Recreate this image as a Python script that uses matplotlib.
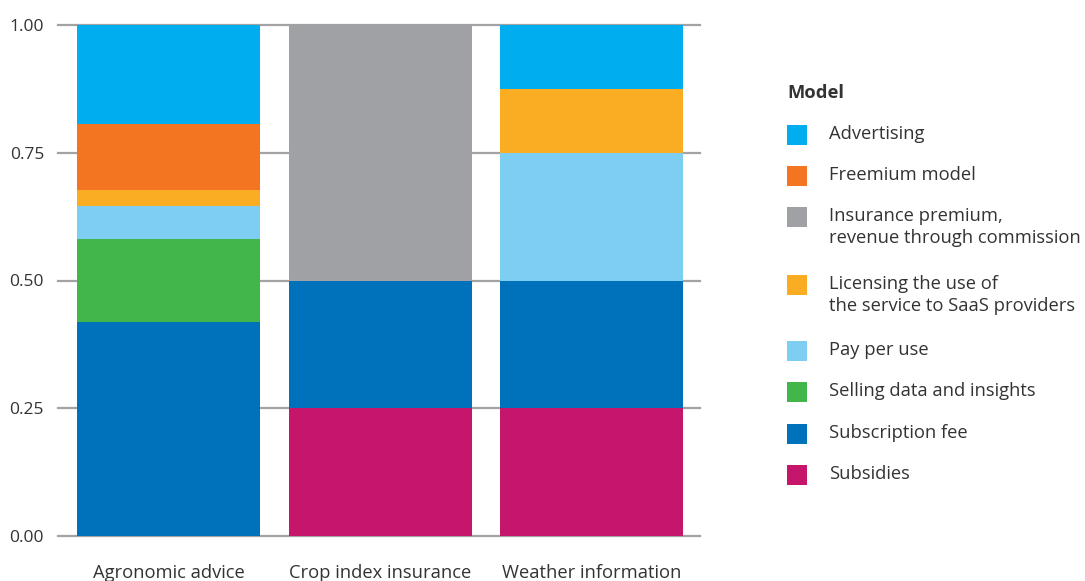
import matplotlib.pyplot as plt
from matplotlib.patches import Rectangle
import numpy as np

# --- data ---
categories = ['Agronomic advice', 'Crop index insurance', 'Weather information']
models = ['Advertising', 'Freemium model', 'Insurance premium,\nrevenue through commission',
          'Licensing the use of\nthe service to SaaS providers', 'Pay per use',
          'Selling data and insights', 'Subscription fee', 'Subsidies']
colors = ['#00AEEF', '#F37421', '#A0A1A4', '#FAAC22', '#7DCEF2', '#42B64A', '#0071BB', '#C5166C']

# shares per category (stacked bottom-up: Subsidies first)
agronomic = {'Subsidies': 0, 'Subscription fee': 13/31, 'Selling data and insights': 5/31,
             'Pay per use': 2/31, 'Licensing the use of\nthe service to SaaS providers': 1/31,
             'Freemium model': 4/31, 'Advertising': 6/31}
crop_index = {'Subsidies': 0.25, 'Subscription fee': 0.25,
              'Insurance premium,\nrevenue through commission': 0.5}
weather = {'Subsidies': 0.25, 'Subscription fee': 0.25, 'Pay per use': 0.25,
           'Licensing the use of\nthe service to SaaS providers': 0.125, 'Advertising': 0.125}
yticks = [0, 0.25, 0.5, 0.75, 1.0]

plt.rcParams['font.family'] = ['Open Sans', 'DejaVu Sans']
text_color = '#333333'
fs = 13.2

W, H = 1085, 581
fig = plt.figure(figsize=(W / 100, H / 100), dpi=100)
ax = fig.add_axes([58 / W, 1 - 536 / H, (700 - 58) / W, (536 - 25) / H])

stack_order = models[::-1]
data = [agronomic, crop_index, weather]
x = np.arange(len(categories))
bottoms = np.zeros(len(categories))
for m in stack_order:
    vals = np.array([d.get(m, 0) for d in data])
    ax.bar(x, vals, bottom=bottoms, width=0.865, color=colors[models.index(m)],
           linewidth=0, zorder=2)
    bottoms += vals

ax.set_xlim(-0.523, 2.513)
ax.set_ylim(0, 1)
ax.set_yticks(yticks)
ax.set_yticklabels([f'{t:.2f}' for t in yticks])
for t in yticks:
    ax.axhline(t, color='#A3A3A3', lw=1.6, zorder=1, clip_on=False)
ax.set_xticks(x)
ax.set_xticklabels(categories, fontsize=fs)
ax.tick_params(axis='both', length=0, labelcolor=text_color)
ax.tick_params(axis='y', pad=10, labelsize=12.5)
ax.tick_params(axis='x', pad=20)
for s in ax.spines.values():
    s.set_visible(False)

# --- legend ---
fig.text(787 / W, 1 - 93 / H, 'Model', fontsize=fs, fontweight='bold',
         color=text_color, va='center', ha='left')
rows_y = [135, 176, 217, 285, 351, 392, 434, 475]
for label, c, yy in zip(models, colors, rows_y):
    fig.add_artist(Rectangle((787 / W, 1 - (yy + 10) / H), 20 / W, 20 / H,
                             transform=fig.transFigure, color=c, lw=0))
    fig.text(829 / W, 1 - (yy - 10) / H, label, fontsize=fs, color=text_color,
             va='top', ha='left', linespacing=1.28)
fig.savefig('out.png', dpi=100)
